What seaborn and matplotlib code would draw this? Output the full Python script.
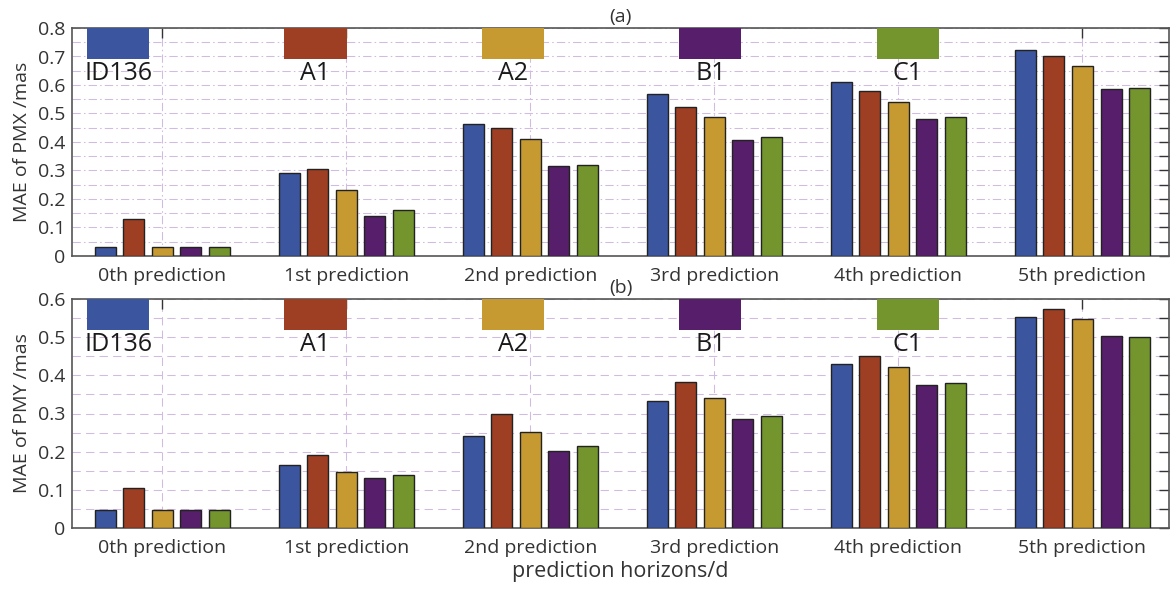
import numpy as np
import pandas as pd
import seaborn as sns
import matplotlib.pyplot as plt
from matplotlib.patches import Rectangle
from matplotlib.ticker import MultipleLocator, FuncFormatter

# Prediction horizons and model names
horizons = ["0th prediction", "1st prediction", "2nd prediction",
            "3rd prediction", "4th prediction", "5th prediction"]
models = ["ID136", "A1", "A2", "B1", "C1"]
colors = ["#3B569E", "#9E3E22", "#C69A31", "#571F6B", "#74952E"]

# MAE of PMX (mas), one list per model over the horizons
pmx_id136 = [0.030, 0.290, 0.463, 0.567, 0.609, 0.724]
pmx_a1 = [0.130, 0.305, 0.450, 0.523, 0.579, 0.702]
pmx_a2 = [0.030, 0.230, 0.410, 0.488, 0.541, 0.667]
pmx_b1 = [0.030, 0.140, 0.316, 0.406, 0.482, 0.585]
pmx_c1 = [0.030, 0.160, 0.318, 0.416, 0.487, 0.589]

# MAE of PMY (mas)
pmy_id136 = [0.047, 0.165, 0.241, 0.333, 0.430, 0.552]
pmy_a1 = [0.105, 0.190, 0.299, 0.382, 0.451, 0.574]
pmy_a2 = [0.047, 0.146, 0.252, 0.341, 0.422, 0.548]
pmy_b1 = [0.047, 0.131, 0.202, 0.286, 0.375, 0.504]
pmy_c1 = [0.047, 0.139, 0.215, 0.294, 0.380, 0.500]


def long_form(series):
    rows = []
    for m, vals in zip(models, series):
        for h, v in zip(horizons, vals):
            rows.append({"horizon": h, "model": m, "mae": v})
    return pd.DataFrame(rows)


df_x = long_form([pmx_id136, pmx_a1, pmx_a2, pmx_b1, pmx_c1])
df_y = long_form([pmy_id136, pmy_a1, pmy_a2, pmy_b1, pmy_c1])

grid_c = "#D2BBE3"
text_c = "#333333"
spine_c = "#555555"

sns.set_theme(style="white")
plt.rcParams["font.family"] = ["Open Sans", "DejaVu Sans"]

W, H = 1170, 598
fig = plt.figure(figsize=(W / 100, H / 100), dpi=100)
ax_a = fig.add_axes([72 / W, 1 - 256 / H, 1097 / W, 228 / H])
ax_b = fig.add_axes([72 / W, 1 - 528 / H, 1097 / W, 229 / H])

panels = [
    (ax_a, df_x, 0.8, "MAE of PMX /mas", "(a)", (0, (8, 3, 1.5, 3))),
    (ax_b, df_y, 0.6, "MAE of PMY /mas", "(b)", (0, (8, 5))),
]

for ax, df, ymax, ylab, title, ls in panels:
    sns.barplot(data=df, x="horizon", y="mae", hue="model", order=horizons,
                hue_order=models, palette=colors, saturation=1,
                width=0.775, gap=0.265, edgecolor="#222222", linewidth=1.0,
                errorbar=None, legend=False, ax=ax, zorder=3)
    ax.set_xlim(-0.49, 5.47)
    ax.set_ylim(0, ymax)
    ax.yaxis.set_major_locator(MultipleLocator(0.1))
    ax.yaxis.set_minor_locator(MultipleLocator(0.05))
    ax.yaxis.set_major_formatter(FuncFormatter(
        lambda t, p: "0" if abs(t) < 1e-9 else f"{t:.1f}"))
    ax.tick_params(axis="both", which="both", direction="in", top=True, right=True,
                   length=7, width=1, color="#333333", labelcolor=text_c,
                   labelsize=14)
    ax.tick_params(axis="x", pad=8)
    ax.tick_params(axis="y", pad=5)
    ax.set_axisbelow(True)
    for which in ("major", "minor"):
        ax.yaxis.grid(True, which=which, color=grid_c, linestyle=ls,
                      linewidth=0.75, snap=True)
    ax.xaxis.grid(True, which="major", color=grid_c, linestyle=ls,
                  linewidth=0.75, snap=True)
    for s in ax.spines.values():
        s.set_color(spine_c)
        s.set_linewidth(1.2)
    ax.set_xlabel("")
    ax.set_ylabel(ylab, fontsize=14, color=text_c, labelpad=5)
    ax.set_title(title, fontsize=14, color=text_c, pad=4)

    # Colour key: a swatch per model with its name underneath
    for i, (m, c) in enumerate(zip(models, colors)):
        x0 = 0.0137 + i * 0.18
        ax.add_patch(Rectangle((x0, 0.865), 0.0566, 0.135, transform=ax.transAxes,
                               facecolor=c, edgecolor="none", zorder=5, clip_on=False))
        ax.text(x0 + 0.0283, 0.80, m, transform=ax.transAxes, ha="center",
                va="center", fontsize=18, color="#1a1a1a", zorder=6)

ax_b.set_xlabel("prediction horizons/d", fontsize=15.5, color=text_c, labelpad=3)

fig.savefig("out.png", dpi=100)
